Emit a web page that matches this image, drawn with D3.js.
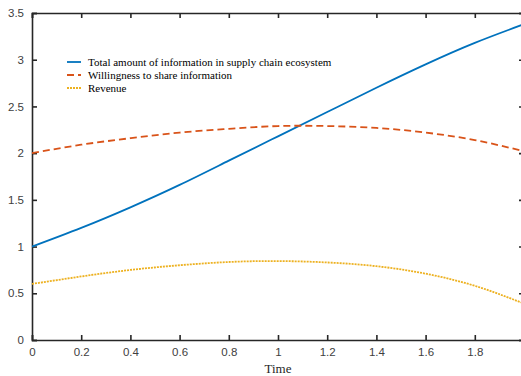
<!DOCTYPE html>
<html>
<head>
<meta charset="utf-8">
<script src="https://cdn.jsdelivr.net/npm/d3@7"></script>
<style>
html,body{margin:0;padding:0;background:#fff;overflow:hidden;}
svg{display:block;}
</style>
</head>
<body>
<script>
const timeValues = [0, 0.2, 0.4, 0.6, 0.8, 1.0, 1.2, 1.4, 1.6, 1.8, 2.0];
const totalInfo  = [1.0, 1.2, 1.42, 1.66, 1.92, 2.18, 2.44, 2.70, 2.95, 3.18, 3.38];
const willingness = [2.0, 2.09, 2.16, 2.22, 2.26, 2.29, 2.29, 2.27, 2.22, 2.14, 2.02];
const revenue    = [0.6, 0.68, 0.75, 0.80, 0.835, 0.845, 0.83, 0.79, 0.71, 0.58, 0.39];
const xTicks = [0, 0.2, 0.4, 0.6, 0.8, 1, 1.2, 1.4, 1.6, 1.8, 2];
const yTicks = [0, 0.5, 1, 1.5, 2, 2.5, 3, 3.5];
const seriesNames = ["Total amount of information in supply chain ecosystem", "Willingness to share information", "Revenue"];
const seriesColors = ["#0072BD", "#D95319", "#EDB120"];
const seriesDash = [null, "7,4", "2,1"];

const W = 521, H = 376;
const mLeft = 32, mRight = 524, mTop = 13, mBottom = 340;
const svg = d3.select("body").append("svg").attr("width", W).attr("height", H);

const x = d3.scaleLinear().domain([0, 2]).range([mLeft, mRight]);
const y = d3.scaleLinear().domain([0, 3.5]).range([mBottom, mTop]);

const axisColor = "#262626";
const tickFont = "'Liberation Sans', Arial, sans-serif";

const bottomAxis = d3.axisBottom(x).tickValues(xTicks).tickSize(-5).tickPadding(8)
  .tickFormat(d => d === 2 ? "" : d3.format("")(d));
const topAxis = d3.axisTop(x).tickValues(xTicks).tickSize(-5).tickFormat("");
const leftAxis = d3.axisLeft(y).tickValues(yTicks).tickSize(-5).tickPadding(8).tickFormat(d3.format(""));
const rightAxis = d3.axisRight(y).tickValues(yTicks).tickSize(-5).tickFormat("");

function styleAxis(g) {
  g.select(".domain").attr("stroke", axisColor).attr("stroke-width", 1.6);
  g.selectAll(".tick line").attr("stroke", axisColor).attr("stroke-width", 1.6);
  g.selectAll(".tick text").attr("fill", "#404040").style("font-family", tickFont).style("font-size", "11.5px");
}

svg.append("g").attr("transform", `translate(0,${mBottom})`).call(bottomAxis).call(styleAxis);
svg.append("g").attr("transform", `translate(0,${mTop})`).call(topAxis).call(styleAxis);
svg.append("g").attr("transform", `translate(${mLeft},0)`).call(leftAxis).call(styleAxis);
svg.append("g").attr("transform", `translate(${mRight},0)`).call(rightAxis).call(styleAxis);

const allSeries = [totalInfo, willingness, revenue];
const line = d3.line().x((d, i) => x(timeValues[i])).y(d => y(d)).curve(d3.curveNatural);
const plot = svg.append("g");
allSeries.forEach((s, k) => {
  plot.append("path").datum(s).attr("d", line)
    .attr("fill", "none").attr("stroke", seriesColors[k]).attr("stroke-width", 1.8)
    .attr("stroke-dasharray", seriesDash[k]);
});

svg.append("text").attr("x", x(1)).attr("y", 373).attr("text-anchor", "middle")
  .style("font-family", "'Liberation Serif', 'Times New Roman', serif").style("font-size", "13px")
  .attr("fill", "#262626").text("Time");

const legend = svg.append("g");
seriesNames.forEach((name, k) => {
  const ly = 62 + k * 13;
  legend.append("line").attr("x1", 67).attr("x2", 81).attr("y1", ly).attr("y2", ly)
    .attr("stroke", seriesColors[k]).attr("stroke-width", 1.8).attr("stroke-dasharray", seriesDash[k]);
  legend.append("text").attr("x", 88).attr("y", ly + 3.5)
    .style("font-family", "'Liberation Serif', 'Times New Roman', serif").style("font-size", "11px")
    .attr("fill", "#000").text(name);
});
</script>
</body>
</html>
